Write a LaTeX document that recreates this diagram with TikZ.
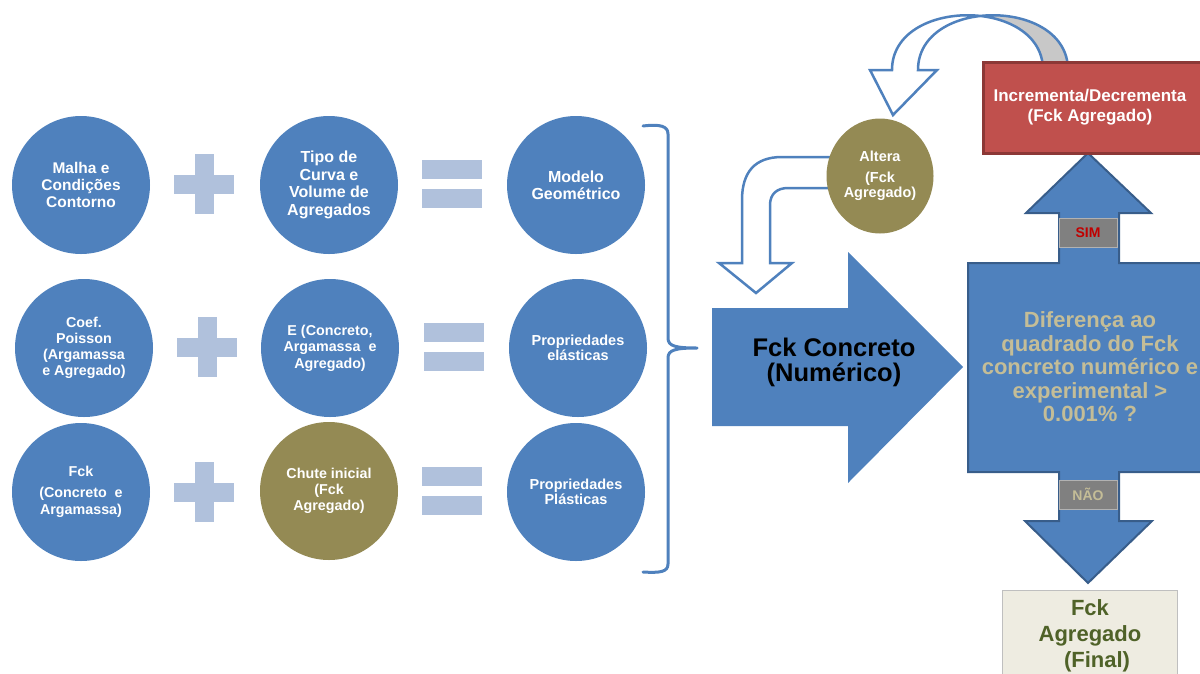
\documentclass[tikz,border=0pt]{standalone}
\usepackage{fontspec}
\setmainfont{Liberation Sans}
\usetikzlibrary{shapes.geometric}
\definecolor{cblue}{HTML}{4F81BD}
\definecolor{cdark}{HTML}{385D8A}
\definecolor{colive}{HTML}{948A54}
\definecolor{lb}{RGB}{176,193,220}
\definecolor{cred}{HTML}{C0504D}
\definecolor{credd}{HTML}{8C3836}
\definecolor{ctan}{HTML}{C4BD97}
\definecolor{finalfill}{HTML}{EEECE1}
\definecolor{finaltxt}{HTML}{4F6228}
\definecolor{backgray}{RGB}{200,200,200}
\newcommand{\myfs}[2]{\fontsize{#1}{#2}\selectfont\bfseries}
\begin{document}
\begin{tikzpicture}[x=1pt,y=-1pt,
  bubble/.style={circle,fill=cblue,minimum size=138pt,inner sep=0pt,text=white,align=center},
  olivebubble/.style={bubble,fill=colive},
  hollow/.style={draw=cblue,line width=2.5pt,fill=white,line join=miter},
  tagbox/.style={rectangle,fill=gray!100!black,fill=gray,draw=gray!60,line width=1pt,minimum width=58pt,minimum height=29pt,inner sep=0pt,font=\myfs{14}{16}},
  plussign/.pic={\fill[lb] (-30,-9.5) rectangle (30,9.5); \fill[lb] (-9.5,-30) rectangle (9.5,30);},
  eqsign/.pic={\fill[lb] (-30,-24) rectangle (30,-5); \fill[lb] (-30,5) rectangle (30,24);}
]
\useasboundingbox (0,0) rectangle (1200,673);
\clip (0,0) rectangle (1200,673);

% row 1
\node[bubble,font=\myfs{15.5}{17}] (malha) at (81,185) {Malha e\\Condições\\Contorno};
\pic at (204,184) {plussign};
\node[bubble,font=\myfs{16}{17.5}] (tipo) at (329,185) {Tipo de\\Curva e\\Volume de\\Agregados};
\pic at (452,184) {eqsign};
\node[bubble,font=\myfs{16}{17}] (modelo) at (576,185) {Modelo\\Geométrico};

% row 2
\node[bubble,font=\myfs{14.3}{15.8}] (coef) at (84,348) {Coef.\\Poisson\\(Argamassa\\e Agregado)};
\pic at (207,347) {plussign};
\node[bubble,font=\myfs{14.3}{16.5}] (e) at (330,348) {E (Concreto,\\Argamassa~ e\\Agregado)};
\pic at (454,347) {eqsign};
\node[bubble,font=\myfs{14.5}{15.5}] (elast) at (578,348) {Propriedades\\elásticas};

% row 3
\node[bubble,font=\myfs{14.3}{17}] (fck) at (81,492) {Fck\\[4pt](Concreto~ e\\Argamassa)};
\pic at (204,492) {plussign};
\node[olivebubble,font=\myfs{14.3}{16}] (chute) at (329,491) {Chute inicial\\(Fck\\Agregado)};
\pic at (452,491) {eqsign};
\node[bubble,font=\myfs{14.5}{15.5}] (plast) at (576,492) {Propriedades\\Plásticas};

% brace
\draw[cblue,line width=3pt,line cap=round,line join=round]
  (643,126) .. controls (660,124) and (668,126) .. (668,134) -- (668,338)
  .. controls (668,346) and (675,348) .. (697,348)
  .. controls (675,348) and (668,350) .. (668,358) -- (668,564)
  .. controls (668,572) and (660,573) .. (643,572);

% big arrow
\fill[cblue] (712,308) -- (848,308) -- (848,252) -- (963,367) -- (848,483) -- (848,426) -- (712,426) -- cycle;
\node[font=\myfs{25.5}{25},align=center,text=black] (num) at (834,362) {Fck Concreto\\(Numérico)};

% decision shape
\draw[fill=cblue,draw=cdark,line width=2pt]
  (968,263) -- (1059,263) -- (1059,213) -- (1026,213) -- (1088,153) -- (1151,213) -- (1119,213) -- (1119,263)
  -- (1215,263) -- (1215,472) -- (1119,472) -- (1119,521) -- (1152,521) -- (1088,583) -- (1025,521)
  -- (1059,521) -- (1059,472) -- (968,472) -- cycle;
\node[font=\myfs{22}{23.5},align=center,text=ctan] (dec) at (1090,367) {Diferença ao\\quadrado do Fck\\concreto numérico e\\experimental >\\0.001\% ?};
\node[tagbox,text={rgb,255:red,192;green,0;blue,0}] (sim) at (1088,232.5) {SIM};
\node[tagbox,text=ctan] (nao) at (1088,494.5) {NÃO};

% top curved hollow arrow
\begin{scope}
  \fill[white] (892,70) .. controls (892,-3) and (1043,-3) .. (1043,70) -- (1068,70)
    .. controls (1068,-3) and (918,-3) .. (918,70) -- (937,70) -- (893,115) -- (870,70) -- cycle;
  \begin{scope}
    \clip (980,0) rectangle (1100,90);
    \fill[backgray] (892,70) .. controls (892,-3) and (1043,-3) .. (1043,70) -- (1068,70)
      .. controls (1068,-3) and (918,-3) .. (918,70) -- cycle;
  \end{scope}
  \draw[cblue,line width=2.5pt,line join=miter] (892,70) .. controls (892,-3) and (1043,-3) .. (1043,70) -- (1068,70)
    .. controls (1068,-3) and (918,-3) .. (918,70) -- (937,70) -- (893,115) -- (870,70) -- cycle;
\end{scope}

% red box
\node[rectangle,fill=cred,draw=credd,line width=2.5pt,minimum width=240pt,minimum height=91pt,anchor=north west,inner sep=0pt] (incr) at (982,61) {};
\node[font=\myfs{17}{20},align=center,text=white] (incrt) at (1090,107) {Incrementa/Decrementa\\(Fck Agregado)};

% left bent hollow arrow
\draw[hollow] (830,157) -- (782,157) .. controls (755,157) and (742,172) .. (742,200) -- (742,263) -- (719,263)
  -- (756,293) -- (792,263) -- (770,263) -- (770,205) .. controls (770,194) and (777,188) .. (788,188) -- (830,188);

% altera
\node[ellipse,fill=colive,minimum width=107pt,minimum height=115pt,inner sep=0pt] (altera) at (880,176) {};
\node[font=\myfs{14.5}{15},align=center,text=white] (alterat) at (880,176) {Altera\\[6pt](Fck\\Agregado)};

% final box
\node[rectangle,fill=finalfill,draw=gray!50,line width=1pt,minimum width=175pt,minimum height=100pt,anchor=north west,inner sep=0pt] (final) at (1002,590) {};
\node[font=\myfs{22}{26},align=center,text=finaltxt] (finalt) at (1090,636) {Fck\\Agregado\\\hspace*{14pt}(Final)};
\end{tikzpicture}
\end{document}
